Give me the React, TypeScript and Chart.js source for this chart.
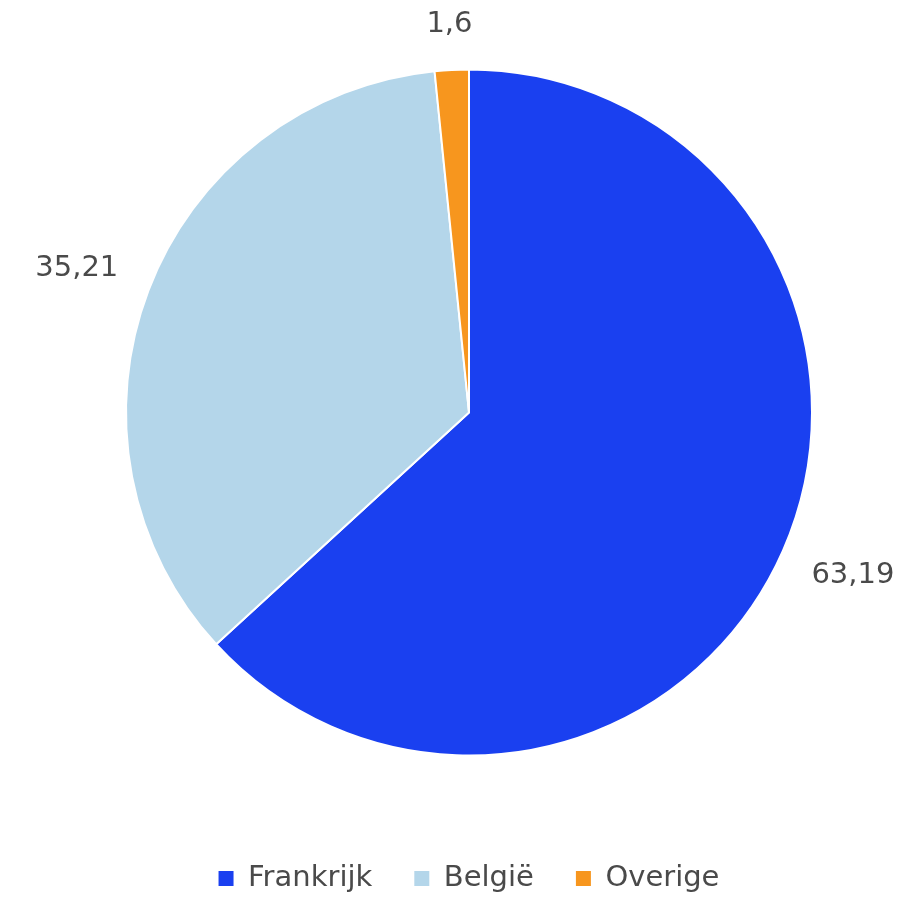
import React, { useEffect, useRef } from 'react';
import { Chart, registerables } from 'chart.js';

Chart.register(...registerables);

const categories = ['Frankrijk', 'België', 'Overige'];
const values = [63.19, 35.21, 1.6];
const colors = ['#1a40f0', '#b4d6ea', '#f7961e'];

const FONT = "'DejaVu Sans', sans-serif";
const TEXT_COLOR = '#4a4a4a';

const formatValue = (v: number) => String(v).replace('.', ',');

const outsideLabels = {
  id: 'outsideLabels',
  afterDatasetsDraw(chart: any) {
    const ctx = chart.ctx as CanvasRenderingContext2D;
    const meta = chart.getDatasetMeta(0);
    ctx.save();
    ctx.font = `29px ${FONT}`;
    ctx.fillStyle = TEXT_COLOR;
    ctx.textAlign = 'center';
    ctx.textBaseline = 'middle';
    meta.data.forEach((arc: any, i: number) => {
      const { x, y, startAngle, endAngle, outerRadius } = arc.getProps(
        ['x', 'y', 'startAngle', 'endAngle', 'outerRadius'],
        true
      );
      const mid = (startAngle + endAngle) / 2;
      const dx = Math.cos(mid);
      const dy = Math.sin(mid);
      const text = formatValue(values[i]);
      const hw = ctx.measureText(text).width / 2;
      const hh = 11;
      const d = outerRadius + 34 + Math.abs(dx) * hw + Math.abs(dy) * hh;
      const ys = 1 - 0.04 * Math.abs(dx);
      ctx.fillText(text, x + dx * d, y + dy * d * ys);
    });
    ctx.restore();
  },
};

export default function App() {
  const canvasRef = useRef<HTMLCanvasElement | null>(null);

  useEffect(() => {
    if (!canvasRef.current) return;
    const chart = new Chart(canvasRef.current, {
      type: 'pie',
      data: {
        labels: categories,
        datasets: [
          {
            data: values,
            backgroundColor: colors,
            borderColor: '#ffffff',
            borderWidth: 2,
            radius: 343,
          } as any,
        ],
      },
      options: {
        responsive: true,
        maintainAspectRatio: false,
        animation: false,
        layout: { padding: { top: 3, left: 32, right: 0, bottom: 2 } },
        plugins: {
          legend: {
            position: 'bottom',
            labels: {
              font: { size: 29, family: FONT },
              color: TEXT_COLOR,
              boxWidth: 15,
              boxHeight: 15,
              padding: 42,
              generateLabels: (c: any) =>
                (Chart as any).overrides.pie.plugins.legend.labels
                  .generateLabels(c)
                  .map((l: any) => ({ ...l, lineWidth: 0 })),
            },
          },
          tooltip: { enabled: false },
        },
      },
      plugins: [outsideLabels],
    });
    return () => chart.destroy();
  }, []);

  return (
    <div
      style={{
        position: 'fixed',
        top: 0,
        left: 0,
        width: 906,
        height: 905,
        overflow: 'hidden',
        background: '#ffffff',
      }}
    >
      <canvas ref={canvasRef} />
    </div>
  );
}
